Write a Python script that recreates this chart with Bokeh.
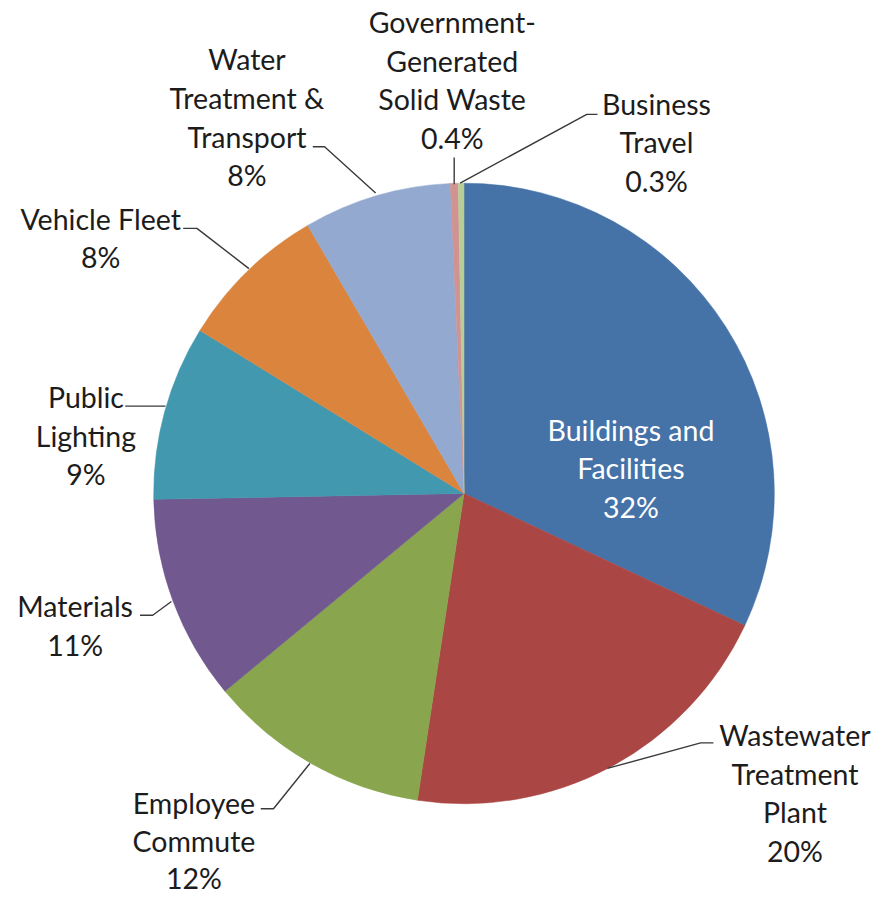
import numpy as np
from bokeh.plotting import figure
from bokeh.models import ColumnDataSource, Range1d
from bokeh.core.properties import value
from bokeh.embed import file_html
from bokeh.resources import INLINE

# ---- data ----
categories = ["Buildings and Facilities", "Wastewater Treatment Plant", "Employee Commute",
              "Materials", "Public Lighting", "Vehicle Fleet", "Water Treatment & Transport",
              "Government-Generated Solid Waste", "Business Travel"]
shares = [32.0, 20.4, 11.6, 10.7, 9.1, 7.8, 7.7, 0.4, 0.3]
pct_labels = ["32%", "20%", "12%", "11%", "9%", "8%", "8%", "0.4%", "0.3%"]
label_lines = [["Buildings and", "Facilities"], ["Wastewater", "Treatment", "Plant"],
               ["Employee", "Commute"], ["Materials"], ["Public", "Lighting"], ["Vehicle Fleet"],
               ["Water", "Treatment &", "Transport"], ["Government-", "Generated", "Solid Waste"],
               ["Business", "Travel"]]
colors = ["#4572A7", "#AA4643", "#89A54E", "#71588F", "#4198AF", "#DB843D", "#93A9CF",
          "#D19392", "#B9CD96"]

# ---- layout (reference pixel coordinates, scaled to fit) ----
W, H = 874, 896
S = W / 890.0
def X(px): return px * S
def Y(py): return H - py * S

CX, CY, R = 472, 502, 316
label_pos = [(642, 437), (809, 748), (197, 817), (76, 617), (87, 404), (102, 222),
             (251, 60), (460, 22), (668, 105)]
label_lh = [39.3, 39.3, 38.5, 39.3, 39.3, 39.3, 39.3, 39.3, 39.3]
text_colors = ["white"] + ["#1c1c1c"] * 8
leaders = [None,
           [(726, 756), (713, 756), (618, 782)],
           [(265, 823), (278, 823), (315, 777)],
           [(142, 626), (155, 626), (174, 612)],
           [(127, 413), (168, 413)],
           [(186, 232), (200, 232), (253, 273)],
           [(318, 149), (330, 149), (382, 196)],
           [(462, 160), (462, 187)],
           [(608, 116), (597, 116), (468, 186)]]
FONT = "Lato"
FSIZE = "%.1fpx" % (29 * S)

p = figure(width=W, height=H, x_range=Range1d(0, W), y_range=Range1d(0, H),
           x_axis_type=None, y_axis_type=None, toolbar_location=None,
           output_backend="svg", min_border=0, outline_line_color=None)
p.grid.visible = False
p.background_fill_color = "white"
p.border_fill_color = "white"

fr = np.array(shares) / sum(shares)
cum = np.concatenate([[0], np.cumsum(fr)])
start = np.pi / 2 - cum[:-1] * 2 * np.pi
end = np.pi / 2 - cum[1:] * 2 * np.pi
src = ColumnDataSource(dict(cat=categories, start=start, end=end, color=colors))
p.wedge(x=X(CX), y=Y(CY), radius=R * S, start_angle="start", end_angle="end",
        direction="clock", fill_color="color", line_color="color", line_width=0.5, source=src)

for pts in leaders:
    if pts is None:
        continue
    p.line([X(a) for a, b in pts], [Y(b) for a, b in pts], line_color="#3a3a3a", line_width=1.4)

tx, ty, tt, tc = [], [], [], []
for lines, pct, (lx, ly), lh, c in zip(label_lines, pct_labels, label_pos, label_lh, text_colors):
    for i, s in enumerate(lines + [pct]):
        tx.append(X(lx)); ty.append(Y(ly + i * lh)); tt.append(s); tc.append(c)
p.text(x=tx, y=ty, text=tt, text_color=tc, text_font=value(FONT), text_font_size=FSIZE,
       text_align="center", text_baseline="middle")

open("out.html", "w").write(file_html(p, INLINE))
